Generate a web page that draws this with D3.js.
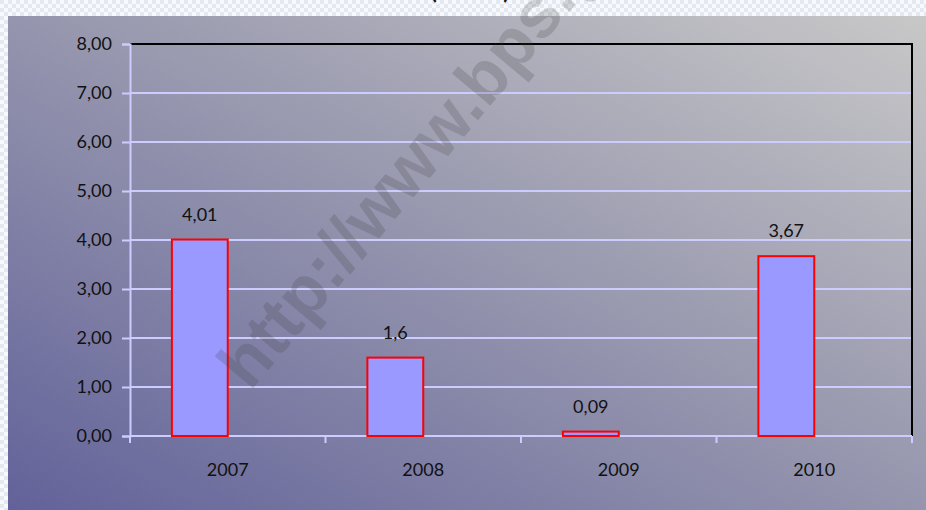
<!DOCTYPE html>
<html>
<head>
<meta charset="utf-8">
<script src="https://cdn.jsdelivr.net/npm/d3@7"></script>
<style>
  html,body{margin:0;padding:0;background:#fff;}
  svg{display:block;font-family:Lato,"Open Sans",sans-serif;}
</style>
</head>
<body>
<svg id="chart" width="926" height="510"></svg>
<script>
// chart data
const years = ['2007','2008','2009','2010'];
const values = [4.01, 1.6, 0.09, 3.67];
const valueLabels = ['4,01','1,6','0,09','3,67'];
const yTicks = [0,1,2,3,4,5,6,7,8];

const W = 926, H = 510;
const m = { left:130, right:912, top:44, bottom:436 };
const svg = d3.select('#chart');
const defs = svg.append('defs');

// light checker strip behind the chart (top / left edge)
const pat = defs.append('pattern').attr('id','strip').attr('width',8).attr('height',8).attr('patternUnits','userSpaceOnUse');
pat.append('rect').attr('width',8).attr('height',8).attr('fill','#f7f9fc');
pat.append('rect').attr('width',4).attr('height',4).attr('fill','#e3e8f1');
pat.append('rect').attr('x',4).attr('y',4).attr('width',4).attr('height',4).attr('fill','#e3e8f1');
svg.append('rect').attr('width',W).attr('height',H).attr('fill','url(#strip)');

// diagonal background gradient
const grad = defs.append('linearGradient').attr('id','bg').attr('x1',0).attr('y1',1).attr('x2',1).attr('y2',0);
grad.append('stop').attr('offset','0%').attr('stop-color','#62629a');
grad.append('stop').attr('offset','55%').attr('stop-color','#9a9ab0');
grad.append('stop').attr('offset','100%').attr('stop-color','#c8c8c8');
svg.append('rect').attr('x',8).attr('y',16).attr('width',W-8).attr('height',H-16).attr('fill','url(#bg)');

// title, mostly cut off at the top (as in the source)
svg.append('text').attr('x',470).attr('y',-1).attr('text-anchor','middle')
  .attr('font-size','22px').attr('font-weight','bold').attr('fill','#111').text('(Persen)');

const x = d3.scaleBand().domain(years).range([m.left, m.right]);
const y = d3.scaleLinear().domain([0,8]).range([m.bottom, m.top]);
const fmt = d => d.toFixed(2).replace('.',',');

// gridlines
svg.append('g').selectAll('line').data(yTicks.filter(t=>t>0 && t<8)).enter().append('line')
  .attr('x1',m.left).attr('x2',m.right).attr('y1',d=>y(d)).attr('y2',d=>y(d))
  .attr('stroke','#ccccff').attr('stroke-width',2);

// plot border (top + right black)
svg.append('path').attr('d',`M${m.left},${y(8)}H${m.right}V${m.bottom}`)
  .attr('fill','none').attr('stroke','#000').attr('stroke-width',2);

// y axis
const yAxis = svg.append('g').attr('transform',`translate(${m.left},0)`)
  .call(d3.axisLeft(y).tickValues(yTicks).tickFormat(fmt).tickSize(8).tickPadding(10));
yAxis.select('.domain').attr('stroke','#ccccff').attr('stroke-width',2);
yAxis.selectAll('.tick line').attr('stroke','#ccccff').attr('stroke-width',2);
yAxis.selectAll('.tick text').attr('font-size','18px').attr('fill','#111').attr('font-family','Lato,sans-serif');

// x axis (ticks on band boundaries)
const bounds = years.map(d=>x(d)).concat([m.right]);
svg.append('line').attr('x1',m.left).attr('x2',m.right).attr('y1',m.bottom).attr('y2',m.bottom)
  .attr('stroke','#ccccff').attr('stroke-width',2);
svg.append('g').selectAll('line').data(bounds).enter().append('line')
  .attr('x1',d=>d).attr('x2',d=>d).attr('y1',m.bottom).attr('y2',m.bottom+7)
  .attr('stroke','#ccccff').attr('stroke-width',2);
svg.append('g').selectAll('text').data(years).enter().append('text')
  .attr('x',d=>x(d)+x.bandwidth()/2).attr('y',476).attr('text-anchor','middle')
  .attr('font-size','18px').attr('fill','#111').text(d=>d);

// bars: first slot of a two-series cluster, gap 150%
const bw = x.bandwidth()/3.5;
const bx = d => x(d) + bw*0.75;
svg.append('g').selectAll('rect').data(years).enter().append('rect')
  .attr('x',d=>bx(d)).attr('y',(d,i)=>y(values[i])).attr('width',bw)
  .attr('height',(d,i)=>m.bottom-y(values[i]))
  .attr('fill','#9999ff').attr('stroke','#ff0000').attr('stroke-width',2);

svg.append('g').selectAll('text').data(years).enter().append('text')
  .attr('x',d=>bx(d)+bw/2).attr('y',(d,i)=>y(values[i])-19).attr('text-anchor','middle')
  .attr('font-size','18px').attr('fill','#111').text((d,i)=>valueLabels[i]);

// watermark
svg.append('text').attr('transform','translate(250,392) rotate(-50)')
  .attr('font-family','"Liberation Sans",Arial,sans-serif').attr('font-weight','bold').attr('font-size','69px')
  .attr('fill','#3c3c3c').attr('fill-opacity',0.2).text('http://www.bps.go.id');
</script>
</body>
</html>
